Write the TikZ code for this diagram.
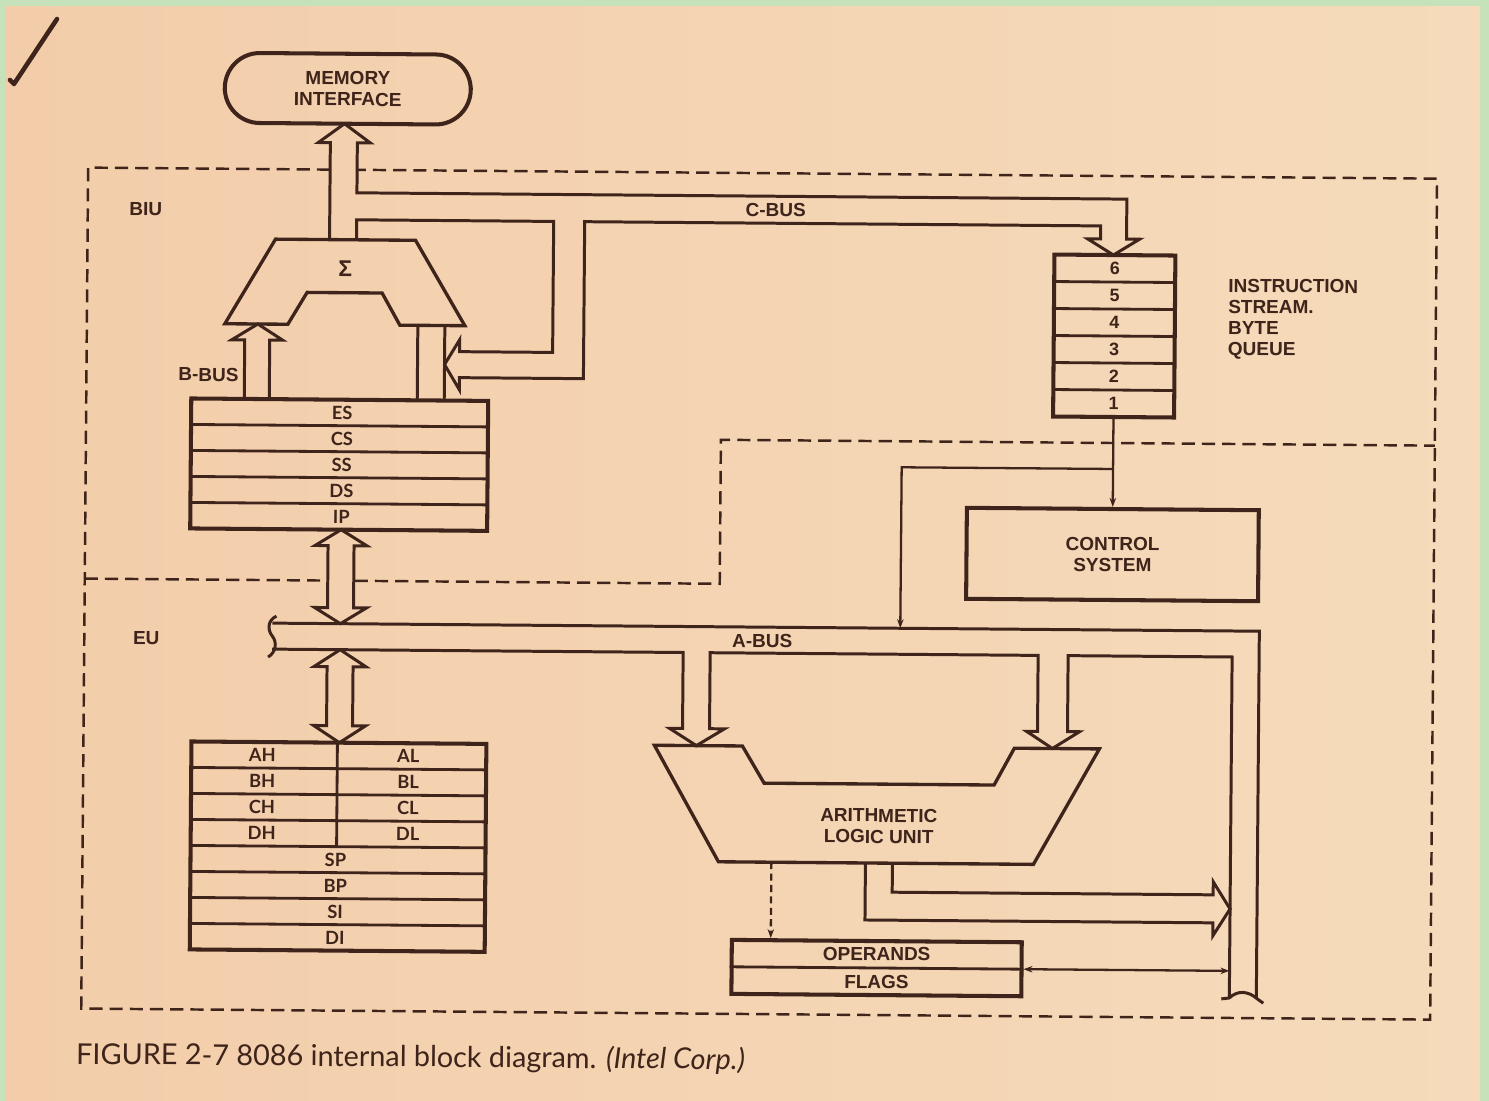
\documentclass[tikz,border=0pt]{standalone}
\usepackage{fontspec}
\setmainfont{Liberation Sans}
\newfontfamily\capfont{Lato}
\usetikzlibrary{arrows.meta}
\definecolor{ink}{RGB}{62,36,26}
\definecolor{paperL}{RGB}{243,205,170}
\definecolor{paperR}{RGB}{245,219,187}
\definecolor{edge}{RGB}{197,226,186}
\begin{document}
\begin{tikzpicture}[x=0.02cm, y=-0.02cm,
  every node/.style={text=ink},
  lbl/.style={font=\fontsize{10.8}{12}\selectfont\bfseries, align=center, inner sep=0pt},
  reg/.style={font=\capfont\fontsize{10.4}{11}\selectfont\bfseries, inner sep=0pt},
  num/.style={font=\fontsize{10.2}{11}\selectfont\bfseries, inner sep=0pt},
  box/.style={draw=ink, line width=2.3pt, inner sep=0pt},
  row/.style={draw=ink, line width=1.6pt},
  bus/.style={draw=ink, line width=1.7pt, line join=miter},
  wire/.style={draw=ink, line width=1.3pt, -{Stealth[length=1.8mm,width=1.3mm]}},
  zone/.style={draw=ink, line width=1.4pt, dash pattern=on 7.5pt off 4pt}]
  \fill[edge] (0,0) rectangle (1489,1101);
  \shade[left color=paperL, right color=paperR] (5,7) rectangle (1480,1101);
  \useasboundingbox (0,0) rectangle (1489,1101);
  \draw[ink, line width=2.6pt, line cap=round, line join=round] (10,80) -- (14,84) -- (57,19);

  \begin{scope}[rotate around={-0.47:(745,550)}, transform shape]
    \draw[zone] (327,173) -- (85,173) -- (85,1014) -- (1434,1014) -- (1434,173) -- (354,173);
    \draw[zone] (85,584) -- (327,584);
    \draw[zone] (355,584) -- (720,584) -- (720,440) -- (1434,440);

    \node[box, lbl, minimum width=4.92cm, minimum height=1.4cm, rounded corners=0.7cm] (mem) at (344,92) {MEMORY\\INTERFACE};

    \draw[bus] (327,243) -- (327,146) -- (315,146) -- (341,127) -- (367,146) -- (354,146) -- (354,196)
      -- (1124,196) -- (1124,236) -- (1137,236) -- (1111,252) -- (1085,236) -- (1098,236) -- (1098,223)
      -- (582,223) -- (582,380) -- (458,380) -- (458,392) -- (443,367) -- (458,342) -- (458,354)
      -- (551,354) -- (551,223) -- (354,223) -- (354,243);

    \draw[bus, line width=1.9pt] (273,243) -- (413,243) -- (463,328) -- (398,328) -- (380,296)
      -- (305,296) -- (286,328) -- (223,328) -- cycle;
    \node[font=\fontsize{13}{14}\selectfont\bfseries] (sig) at (343,272) {Σ};

    \draw[bus] (243,403) -- (243,344) -- (230,344) -- (256,328) -- (281,344) -- (268,344) -- (268,403);
    \draw[bus] (416,328) -- (416,403);
    \draw[bus] (443,328) -- (443,403);

    \node[box, minimum width=5.94cm, minimum height=2.6cm] (seg) at (338.5,468) {};
    \foreach \y in {429,455,481,507}
      \draw[row] (190,\y) -- (487,\y);
    \foreach \r [count=\i] in {ES,CS,SS,DS,IP}
      \node[reg] (s\i) at (341,{390+26*\i}) {\r};

    \node[box, minimum width=2.42cm, minimum height=3.24cm] (q) at (1112.5,333) {};
    \foreach \y in {279,306,333,360,387}
      \draw[row] (1052,\y) -- (1173,\y);
    \foreach \n [count=\i] in {6,...,1}
      \node[num] (q\n) at (1112.5,{238.5+27*\i}) {\n};
    \node[lbl, align=left, anchor=west] (isq) at (1226,315) {INSTRUCTION\\STREAM.\\BYTE\\QUEUE};

    \node[box, lbl, minimum width=5.84cm, minimum height=1.82cm] (ctrl) at (1112.5,551.5) {CONTROL\\SYSTEM};
    \coordinate (qbr) at (1112.5,466);
    \coordinate (ctrlin) at (901,627);
    \draw[wire] (q.south) -- (ctrl.north);
    \draw[wire] (qbr) -- (901,466) -- (ctrlin);

    \draw[bus] (341,533) -- (367,549) -- (354,549) -- (354,611) -- (367,611) -- (341,627) -- (315,611)
      -- (328,611) -- (328,549) -- (315,549) -- cycle;
    \draw[bus] (341,653) -- (367,670) -- (354,670) -- (354,729) -- (367,729) -- (341,746) -- (315,729)
      -- (328,729) -- (328,670) -- (315,670) -- cycle;

    \draw[bus] (273,627) -- (1260,627) -- (1260,994);
    \draw[bus] (273,653) -- (684,653) -- (684,729) -- (671,729) -- (698,746) -- (726,729) -- (711,729)
      -- (711,653) -- (1039,653) -- (1039,729) -- (1028,729) -- (1054,746) -- (1081,729) -- (1069,729)
      -- (1069,653) -- (1233,653) -- (1233,994);
    \draw[bus] (277,620) .. controls (268,624) and (268,634) .. (273,640) .. controls (278,646) and (277,656) .. (269,661);
    \draw[bus] (1225,995) -- (1233,994) .. controls (1241,986) and (1252,987) .. (1260,994) -- (1267,999);

    \draw[bus, line width=1.9pt] (656,746) -- (744,746) -- (766,783) -- (996,783) -- (1016,746) -- (1101,746)
      -- (1036,862) -- (721,862) -- cycle;
    \node[lbl] (alu) at (881,825) {ARITHMETIC\\LOGIC UNIT};
    \draw[bus] (868,862) -- (868,919) -- (1216,919) -- (1216,932) -- (1233,905) -- (1216,878) -- (1216,891)
      -- (895,891) -- (895,862);

    \node[box, minimum width=5.8cm, minimum height=1.08cm] (ops) at (880,967) {};
    \draw[row] (ops.west) -- (ops.east);
    \node[lbl] (opn) at (880,953) {OPERANDS};
    \node[lbl] (flg) at (880,981) {FLAGS};
    \coordinate (aluout) at (774,862);
    \coordinate (abin) at (1233,967);
    \draw[wire, dash pattern=on 4pt off 2.5pt] (aluout) -- (aluout |- ops.north);
    \draw[wire, {Stealth[length=1.8mm,width=1.3mm]}-{Stealth[length=1.8mm,width=1.3mm]}] (ops.east) -- (abin);

    \node[box, minimum width=5.9cm, minimum height=4.16cm] (gp) at (340.5,850) {};
    \foreach \y in {772,798,...,928}
      \draw[row] (193,\y) -- (488,\y);
    \draw[row] (339,746) -- (339,850);
    \foreach \h/\l [count=\i] in {AH/AL,BH/BL,CH/CL,DH/DL} {
      \node[reg] (h\i) at (264,{733+26*\i}) {\h};
      \node[reg] (l\i) at (410,{733+26*\i}) {\l};
    }
    \foreach \r [count=\i] in {SP,BP,SI,DI}
      \node[reg] (p\i) at (338,{837+26*\i}) {\r};

    \node[lbl] (biu) at (143,214) {BIU};
    \node[lbl] (eu) at (147,643) {EU};
    \node[lbl] (bbus) at (207,379) {B-BUS};
    \node[lbl] (cbus) at (773,210) {C-BUS};
    \node[lbl] (abus) at (763,641) {A-BUS};

    \node[font=\capfont\fontsize{16.4}{18}\selectfont, anchor=west, inner sep=0pt] (cap) at (80,1061)
      {FIGURE 2-7 8086 internal block diagram. \textit{(Intel Corp.)}};
  \end{scope}
\end{tikzpicture}
\end{document}
